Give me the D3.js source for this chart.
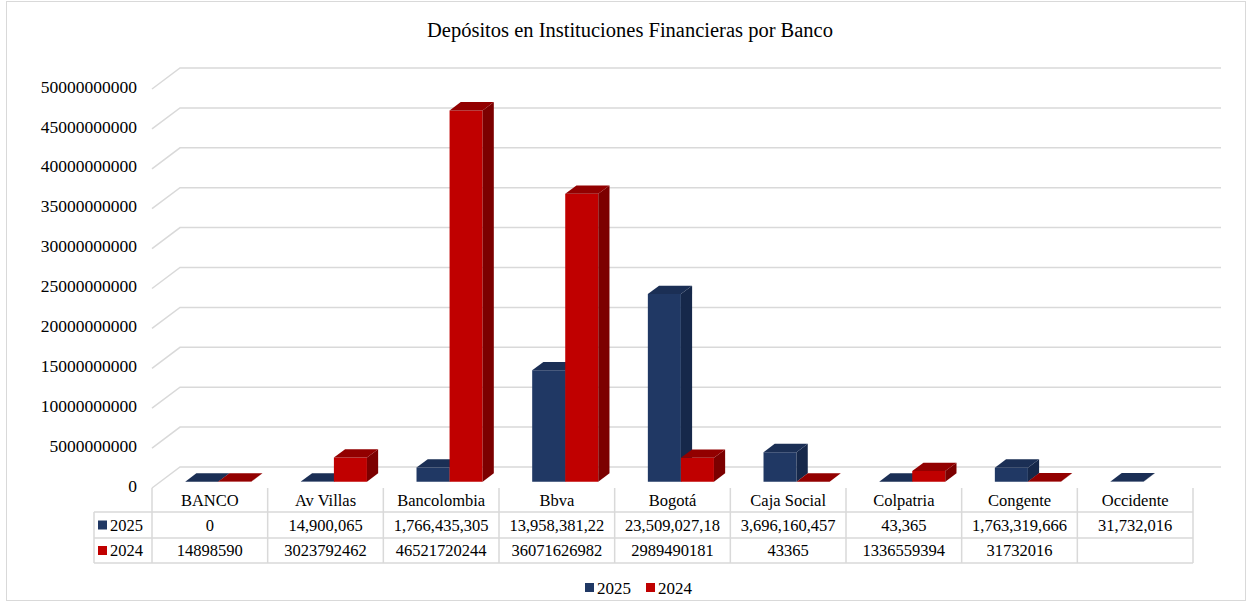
<!DOCTYPE html>
<html>
<head>
<meta charset="utf-8">
<script src="https://cdn.jsdelivr.net/npm/d3@7"></script>
<style>
  body { margin: 0; background: #fff; }
</style>
</head>
<body>
<div id="chart"></div>
<script>
/* --- data ---------------------------------------------------------------- */
const banks = ["BANCO", "Av Villas", "Bancolombia", "Bbva", "Bogotá", "Caja Social", "Colpatria", "Congente", "Occidente"];
const seriesNames = ["2025", "2024"];
const values2025 = [0, 14900065, 1766435305, 13958381220, 23509027180, 3696160457, 43365, 1763319666, 31732016];
const values2024 = [14898590, 3023792462, 46521720244, 36071626982, 2989490181, 43365, 1336559394, 31732016, null];
// table cells exactly as printed in the source sheet
const labels2025 = ["0", "14,900,065", "1,766,435,305", "13,958,381,22", "23,509,027,18", "3,696,160,457", "43,365", "1,763,319,666", "31,732,016"];
const labels2024 = ["14898590", "3023792462", "46521720244", "36071626982", "2989490181", "43365", "1336559394", "31732016", ""];
const yTicks = [0, 5e9, 10e9, 15e9, 20e9, 25e9, 30e9, 35e9, 40e9, 45e9, 50e9];

/* --- layout -------------------------------------------------------------- */
const W = 1252, H = 607;
const floorY = 488;            // front edge of the floor
const left = 152, right = 1193; // front edge extent
const depthX = 28, depthY = 21; // wall depth offset
const barT0 = 0.3, barT1 = 0.7; // bar position inside the depth
const FONT = "'Liberation Serif', 'Times New Roman', Tinos, 'DejaVu Serif', serif";

const colors = {
  "2025": { front: "#203864", top: "#1b2f55", side: "#16284a" },
  "2024": { front: "#c00000", top: "#920000", side: "#7c0000" }
};
const gridCol = "#d9d9d9";

const svg = d3.select("#chart").append("svg").attr("width", W).attr("height", H)
  .attr("font-family", FONT).style("font-family", FONT);

// outer chart border
svg.append("rect").attr("x", 6.5).attr("y", 1.5).attr("width", 1239).attr("height", 599)
  .attr("fill", "#fff").attr("stroke", gridCol);

const x0 = d3.scaleBand().domain(banks).range([left, right]).padding(0);
const bw = x0.bandwidth();
const gap = bw * 1.5 / 3.5;
const x1 = d3.scaleBand().domain(seriesNames).range([gap / 2, bw - gap / 2]).padding(0);
const yH = d3.scaleLinear().domain([0, 50e9]).range([0, 399]);

// projection: front x, height, depth fraction -> screen
const P = (x, h, t) => [x + depthX * t, floorY - depthY * t - h];
const pts = a => a.map(p => p.join(",")).join(" ");

/* --- title --------------------------------------------------------------- */
svg.append("text").attr("x", 630).attr("y", 37).attr("text-anchor", "middle")
  .style("font-size", "20.5px").text("Depósitos en Instituciones Financieras por Banco");

/* --- walls / gridlines --------------------------------------------------- */
const grid = svg.append("g").attr("stroke", gridCol).attr("stroke-width", 1.5).attr("fill", "none");
yTicks.forEach(v => {
  const h = yH(v);
  const a = P(left, h, 0), b = P(left, h, 1), c = P(right, h, 1);
  grid.append("polyline").attr("points", pts([a, b, c]));
});

svg.append("g").selectAll("text").data(yTicks).join("text")
  .attr("x", 137).attr("y", d => P(left, yH(d), 0)[1] - 2.5)
  .attr("dy", "0.35em").attr("text-anchor", "end")
  .style("font-size", "17.5px").text(d3.format("d"));

/* --- bars ---------------------------------------------------------------- */
const bars = svg.append("g");
const allVals = { "2025": values2025, "2024": values2024 };
banks.forEach((b, i) => {
  seriesNames.forEach(s => {
    const v = allVals[s][i];
    if (v == null) return;
    const xa = x0(b) + x1(s), xb = xa + x1.bandwidth();
    const h = yH(v);
    const c = colors[s];
    // front
    bars.append("polygon").attr("fill", c.front)
      .attr("points", pts([P(xa, 0, barT0), P(xb, 0, barT0), P(xb, h, barT0), P(xa, h, barT0)]));
    // side
    bars.append("polygon").attr("fill", c.side)
      .attr("points", pts([P(xb, 0, barT0), P(xb, 0, barT1), P(xb, h, barT1), P(xb, h, barT0)]));
    // top
    bars.append("polygon").attr("fill", c.top)
      .attr("points", pts([P(xa, h, barT0), P(xb, h, barT0), P(xb, h, barT1), P(xa, h, barT1)]));
  });
});

/* --- data table ---------------------------------------------------------- */
const rowY = [488, 512, 538, 563];
const tableLeft = 94;
const tbl = svg.append("g").attr("stroke", gridCol).attr("stroke-width", 1.5);
// horizontal lines
rowY.slice(1).forEach(y => tbl.append("line").attr("x1", tableLeft).attr("x2", right).attr("y1", y).attr("y2", y));
// vertical lines
tbl.append("line").attr("x1", tableLeft).attr("x2", tableLeft).attr("y1", rowY[1]).attr("y2", rowY[3]);
banks.forEach(b => tbl.append("line").attr("x1", x0(b)).attr("x2", x0(b)).attr("y1", rowY[0]).attr("y2", rowY[3]));
tbl.append("line").attr("x1", right).attr("x2", right).attr("y1", rowY[0]).attr("y2", rowY[3]);

const cellText = (arr, r) => svg.append("g").selectAll("text").data(arr).join("text")
  .attr("x", (d, i) => x0(banks[i]) + bw / 2)
  .attr("y", (rowY[r] + rowY[r + 1]) / 2).attr("dy", "0.35em")
  .attr("text-anchor", "middle").style("font-size", "16.5px").text(d => d);
cellText(banks, 0);
cellText(labels2025, 1);
cellText(labels2024, 2);

seriesNames.forEach((s, k) => {
  const yc = (rowY[k + 1] + rowY[k + 2]) / 2;
  svg.append("rect").attr("x", 98).attr("y", yc - 4.5).attr("width", 9).attr("height", 9).attr("fill", colors[s].front);
  svg.append("text").attr("x", 110).attr("y", yc).attr("dy", "0.35em").style("font-size", "16.5px").text(s);
});

/* --- legend -------------------------------------------------------------- */
const lg = svg.append("g");
seriesNames.forEach((s, k) => {
  const lx = 585 + k * 61;
  lg.append("rect").attr("x", lx).attr("y", 583).attr("width", 9).attr("height", 9).attr("fill", colors[s].front);
  lg.append("text").attr("x", lx + 12).attr("y", 588).attr("dy", "0.35em").style("font-size", "17px").text(s);
});
</script>
</body>
</html>
